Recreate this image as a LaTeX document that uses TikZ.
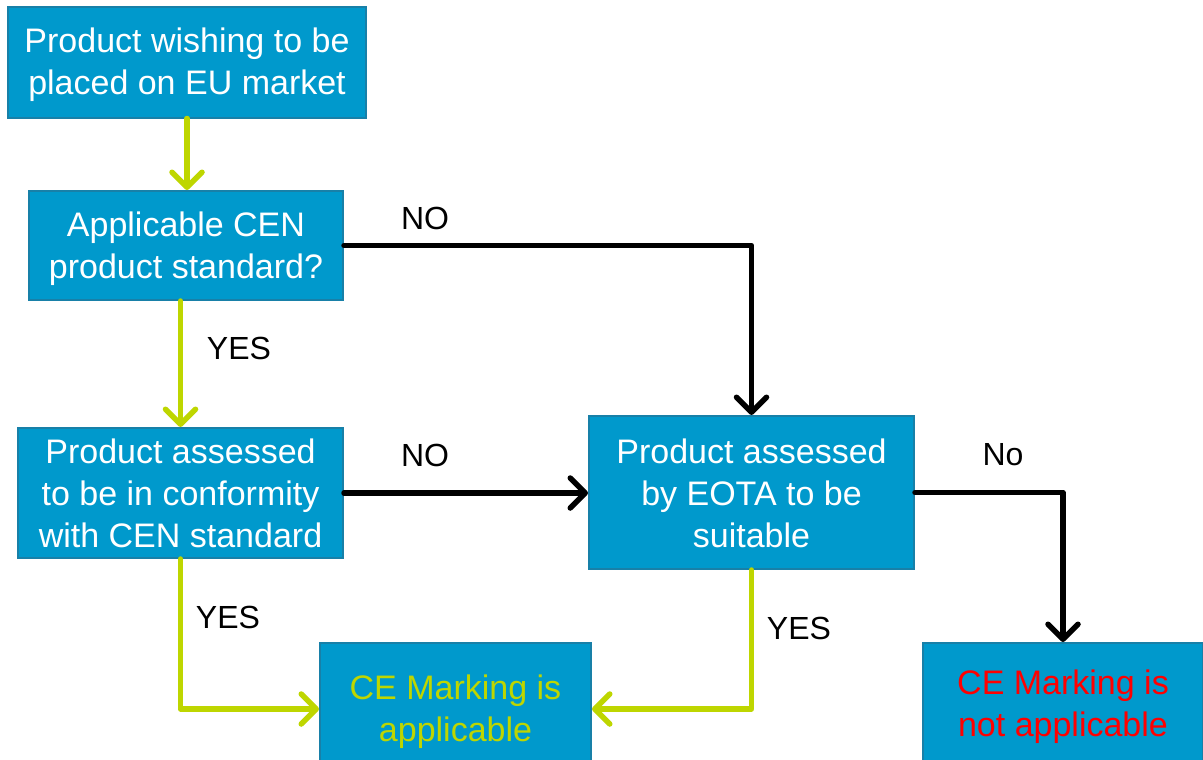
\documentclass[tikz,border=0pt]{standalone}
\usepackage{fontspec}
\setmainfont{Liberation Sans}
\usetikzlibrary{arrows.meta}
\definecolor{boxfill}{RGB}{0,153,204}
\definecolor{boxline}{RGB}{24,128,168}
\definecolor{limegreen}{RGB}{190,214,0}
\definecolor{warnred}{RGB}{255,0,0}
\newcommand\toppad[1]{\rule{0pt}{\dimexpr\fontcharht\font`d+#1\relax}}
\tikzset{
  flowbox/.style={draw=boxline, line width=2pt, fill=boxfill, text=white, align=center,
    inner sep=0pt, font=\fontsize{34}{42}\selectfont},
  yesline/.style={draw=limegreen, line width=5.5pt, line cap=round, line join=round,
    -{Straight Barb[length=15pt,width=30pt,round]}},
  noline/.style={draw=black, line width=5.5pt, line cap=round, line join=round,
    -{Straight Barb[length=15pt,width=30pt,round]}},
  lbl/.style={font=\fontsize{32}{38}\selectfont, text=black, inner sep=0pt}
}
\begin{document}
\begin{tikzpicture}[x=1pt,y=-1pt]
\useasboundingbox (0,0) rectangle (1203,760);
\clip (0,0) rectangle (1203,760);
\fill[white] (0,0) rectangle (1203,760);

\node[flowbox, minimum width=358pt, minimum height=110pt] (b1) at (187,62.5)
  {\toppad{6pt}Product wishing to be\\placed on EU market};
\node[flowbox, minimum width=314pt, minimum height=109pt] (b2) at (186,245.5)
  {\toppad{8pt}Applicable CEN\\product standard?};
\node[flowbox, minimum width=325pt, minimum height=130pt] (b3) at (180.5,493)
  {Product assessed\\to be in conformity\\with CEN standard};
\node[flowbox, minimum width=325pt, minimum height=153pt] (b4) at (751.5,492.5)
  {\toppad{3pt}Product assessed\\by EOTA to be\\suitable};
\node[flowbox, text=limegreen, minimum width=271pt, minimum height=132pt] (b5) at (455.5,709)
  {\toppad{6pt}CE Marking is\\applicable};
\node[flowbox, text=warnred, minimum width=280pt, minimum height=120pt] (b6) at (1063,703)
  {\toppad{8pt}CE Marking is\\not applicable};

\draw[yesline] (b1.south) -- (b1.south |- b2.north);
\draw[yesline] (b3.north |- b2.south) -- (b3.north);
\draw[noline] (b2.east) -| (b4.north);
\draw[noline] (b3.east) -- (b3.east -| b4.west);
\draw[noline] (b4.east) -| (b6.north);
\draw[yesline] (b3.south) |- (b5.west);
\draw[yesline] (b4.south) |- (b5.east);

\node[lbl] (l1) at (425,218) {NO};
\node[lbl] (l2) at (239,348) {YES};
\node[lbl] (l3) at (425,455) {NO};
\node[lbl] (l4) at (1003,455) {No};
\node[lbl] (l5) at (228,617) {YES};
\node[lbl] (l6) at (799,628) {YES};
\end{tikzpicture}
\end{document}
